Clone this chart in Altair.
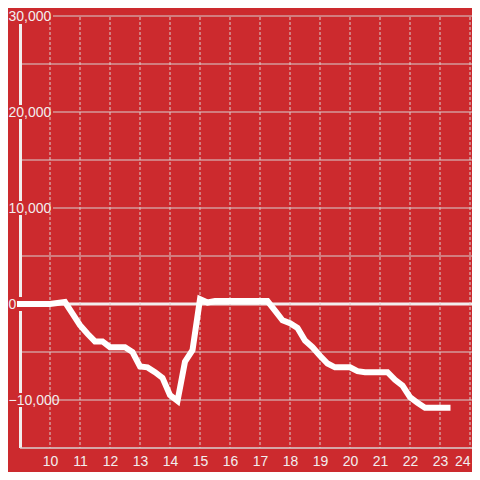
import altair as alt
import pandas as pd

hours = [9.0, 9.5, 10.0, 10.5, 10.75, 11.0, 11.25, 11.5, 11.75, 12.0, 12.25, 12.5, 12.75,
         13.0, 13.25, 13.5, 13.75, 14.0, 14.25, 14.5, 14.75, 15.0, 15.25, 15.5, 16.0,
         16.5, 17.0, 17.25, 17.5, 17.75, 18.0, 18.25, 18.5, 18.75, 19.0, 19.25, 19.5,
         19.75, 20.0, 20.25, 20.5, 20.75, 21.0, 21.25, 21.5, 21.75, 22.0, 22.25, 22.5,
         22.75, 23.0, 23.25]
values = [0, 0, 0, 200, -1000, -2200, -3100, -3900, -3900, -4500, -4500, -4500, -5000,
          -6500, -6600, -7100, -7700, -9500, -10100, -6000, -4800, 500, 150, 300, 300,
          300, 300, 300, -700, -1700, -2000, -2500, -3800, -4500, -5400, -6200, -6600,
          -6600, -6600, -7000, -7100, -7100, -7100, -7100, -7900, -8500, -9700, -10300, -10800,
          -10800, -10800, -10800]

x_ticks = list(range(10, 25))
grid_values = [-10000, -5000, 5000, 10000, 15000, 20000, 25000, 30000]
label_values = [-10000, 0, 10000, 20000, 30000]

BG = "#CC2A2E"
LIGHT = "#f2eeee"
GRID = "#d8d0d0"
W = 452
H = 432

xs = alt.Scale(domain=[9, 9 + W / 30], nice=False, zero=False)
ys = alt.Scale(domain=[-15000, 30000], nice=False, zero=False)
x_axis = alt.Axis(values=x_ticks, grid=False, ticks=False, domain=False,
                  labelColor=LIGHT, labelFontSize=14, labelFont="Liberation Sans",
                  labelPadding=6, title=None, labelFlush=5, labelOverlap=False)

line_df = pd.DataFrame({"h": hours, "v": values})
grid_df = pd.DataFrame({"v": grid_values})
lab_df = pd.DataFrame({"v": label_values})
xt_df = pd.DataFrame({"h": x_ticks})

hgrid = alt.Chart(grid_df).mark_rule(color=GRID, strokeWidth=1).encode(
    y=alt.Y("v:Q", scale=ys, axis=None),
    x=alt.value(0), x2=alt.value(W))

zero = alt.Chart(pd.DataFrame({"v": [0]})).mark_rule(color=LIGHT, strokeWidth=3).encode(
    y=alt.Y("v:Q", scale=ys, axis=None), x=alt.value(0), x2=alt.value(W))

yaxis = alt.Chart(pd.DataFrame({"v": [0]})).mark_rule(color=LIGHT, strokeWidth=3).encode(
    x=alt.value(0.5), y=alt.value(8), y2=alt.value(H))

lab_bg = alt.Chart(lab_df).mark_rule(color=BG, strokeWidth=14).encode(
    y=alt.Y("v:Q", scale=ys, axis=None), x=alt.value(-12), x2=alt.value(33))

vgrid = alt.Chart(xt_df).mark_rule(color=GRID, strokeWidth=1, strokeDash=[3, 2]).encode(
    x=alt.X("h:Q", scale=xs, axis=x_axis),
    y=alt.value(1), y2=alt.value(H))

bottom = alt.Chart(pd.DataFrame({"v": [-15000]})).mark_rule(color=GRID, strokeWidth=1.5).encode(
    y=alt.Y("v:Q", scale=ys, axis=None), x=alt.value(0), x2=alt.value(W))

labels = alt.Chart(lab_df).transform_calculate(
    t="format(datum.v, ',')").mark_text(
    align="left", baseline="middle", fontSize=14, font="Liberation Sans", color=LIGHT, dy=1).encode(
    y=alt.Y("v:Q", scale=ys, axis=None), x=alt.value(-11.5), text="t:N")

line = alt.Chart(line_df).mark_line(color="#ffffff", strokeWidth=6, strokeCap="square",
                                    strokeJoin="miter").encode(
    x=alt.X("h:Q", scale=xs, axis=x_axis), y=alt.Y("v:Q", scale=ys, axis=None))

chart = alt.layer(hgrid, zero, yaxis, lab_bg, vgrid, bottom, labels, line).properties(
    width=W, height=H,
    padding={"left": 12, "top": 8, "right": 0, "bottom": 24},
    autosize=alt.AutoSizeParams(type="none"),
    background=BG,
).configure_view(stroke=None)

chart.save("out.html", embed_options={"renderer": "svg", "actions": False})
